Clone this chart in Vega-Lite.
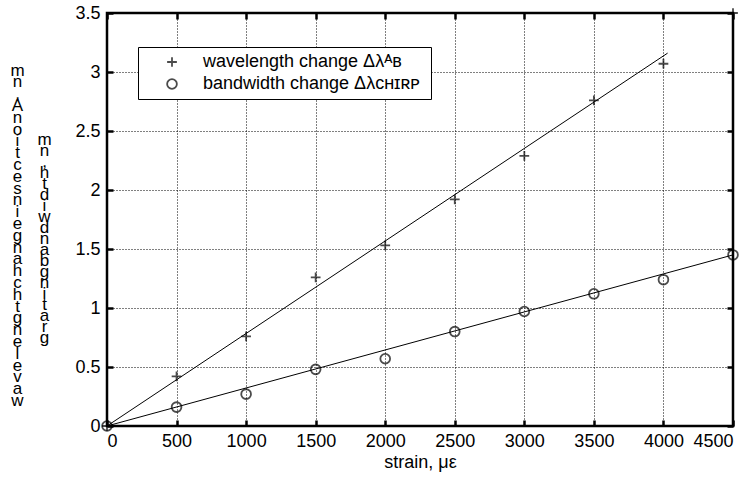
{
  "$schema": "https://vega.github.io/schema/vega-lite/v6.json",
  "width": 626,
  "height": 413,
  "autosize": {"type": "none"},
  "padding": {"left": 107, "top": 13, "right": 15, "bottom": 52},
  "background": "white",
  "config": {
    "view": {"stroke": "black", "strokeWidth": 2.5},
    "font": "Liberation Sans",
    "axis": {
      "labelFont": "Liberation Sans",
      "titleFont": "Liberation Sans",
      "labelFontSize": 18,
      "titleFontSize": 18,
      "labelColor": "black",
      "titleColor": "black",
      "titleFontWeight": "normal",
      "domain": false,
      "tickColor": "black",
      "tickWidth": 2.5,
      "tickSize": 6,
      "gridColor": "black",
      "gridDash": [1, 2],
      "gridWidth": 1,
      "gridOpacity": 1
    }
  },
  "datasets": {
    "fits": [
      {"strain": 0, "value": 0, "series": "wavelength"},
      {"strain": 4030, "value": 3.16, "series": "wavelength"},
      {"strain": 0, "value": 0, "series": "bandwidth"},
      {"strain": 4500, "value": 1.45, "series": "bandwidth"}
    ],
    "measured": [
      {"strain": 0, "value": 0, "series": "wavelength"},
      {"strain": 500, "value": 0.42, "series": "wavelength"},
      {"strain": 1000, "value": 0.76, "series": "wavelength"},
      {"strain": 1500, "value": 1.26, "series": "wavelength"},
      {"strain": 2000, "value": 1.53, "series": "wavelength"},
      {"strain": 2500, "value": 1.92, "series": "wavelength"},
      {"strain": 3000, "value": 2.29, "series": "wavelength"},
      {"strain": 3500, "value": 2.76, "series": "wavelength"},
      {"strain": 4000, "value": 3.07, "series": "wavelength"},
      {"strain": 4500, "value": 3.5, "series": "wavelength"},
      {"strain": 0, "value": 0, "series": "bandwidth"},
      {"strain": 500, "value": 0.16, "series": "bandwidth"},
      {"strain": 1000, "value": 0.27, "series": "bandwidth"},
      {"strain": 1500, "value": 0.48, "series": "bandwidth"},
      {"strain": 2000, "value": 0.57, "series": "bandwidth"},
      {"strain": 2500, "value": 0.8, "series": "bandwidth"},
      {"strain": 3000, "value": 0.97, "series": "bandwidth"},
      {"strain": 3500, "value": 1.12, "series": "bandwidth"},
      {"strain": 4000, "value": 1.24, "series": "bandwidth"},
      {"strain": 4500, "value": 1.45, "series": "bandwidth"}
    ]
  },
  "resolve": {"axis": {"x": "independent", "y": "independent"}},
  "layer": [
    {
      "data": {"name": "fits"},
      "mark": {"type": "line", "color": "black", "strokeWidth": 1},
      "encoding": {
        "x": {
          "field": "strain", "type": "quantitative",
          "scale": {"domain": [0, 4500], "nice": false},
          "axis": {
            "orient": "bottom", "values": [0, 500, 1000, 1500, 2000, 2500, 3000, 3500, 4000, 4500],
            "format": "d", "ticks": false,
            "title": "strain, με", "labelPadding": 6, "titlePadding": 3, "grid": true
          }
        },
        "y": {
          "field": "value", "type": "quantitative",
          "scale": {"domain": [0, 3.5], "nice": false},
          "axis": {
            "orient": "left", "values": [0, 0.5, 1, 1.5, 2, 2.5, 3, 3.5],
            "format": "~g", "ticks": false,
            "labelPadding": 7, "grid": true,
            "title": ["m","n",",","A","n","o","i","t","c","e","s","n","i","e","g","n","a","h","c","h","t","g","n","e","l","e","v","a","w"],
            "titleAngle": 0, "titleAlign": "center", "titleBaseline": "top",
            "titleLineHeight": 11.8, "titleFontSize": 17,
            "titleX": -90, "titleY": 49
          }
        },
        "detail": {"field": "series"}
      }
    },
    {
      "data": {"name": "fits"},
      "mark": {"type": "line", "strokeOpacity": 0},
      "encoding": {
        "x": {
          "field": "strain", "type": "quantitative",
          "axis": {"orient": "bottom", "offset": -6, "ticks": true, "values": [0, 500, 1000, 1500, 2000, 2500, 3000, 3500, 4000, 4500], "labels": false, "title": null, "grid": false}
        },
        "y": {
          "field": "value", "type": "quantitative",
          "axis": {"orient": "left", "offset": -6, "ticks": true, "values": [0, 0.5, 1, 1.5, 2, 2.5, 3, 3.5], "labels": false, "title": null, "grid": false}
        },
        "detail": {"field": "series"}
      }
    },
    {
      "data": {"name": "measured"},
      "mark": {"type": "point", "filled": false, "strokeWidth": 1.8, "size": 95, "clip": false},
      "encoding": {
        "x": {
          "field": "strain", "type": "quantitative",
          "axis": {"orient": "top", "offset": -6, "ticks": true, "values": [0, 500, 1000, 1500, 2000, 2500, 3000, 3500, 4000, 4500], "labels": false, "title": null, "grid": false}
        },
        "y": {
          "field": "value", "type": "quantitative",
          "axis": {
            "orient": "right", "offset": -6, "ticks": true, "values": [0, 0.5, 1, 1.5, 2, 2.5, 3, 3.5], "labels": false, "grid": false,
            "title": ["m","n",",","h","t","d","i","w","d","n","a","b","g","n","i","t","a","r","g"],
            "titleAngle": 0, "titleAlign": "center", "titleBaseline": "top",
            "titleLineHeight": 11, "titleFontSize": 17,
            "titleX": -683, "titleY": 118
          }
        },
        "shape": {
          "field": "series", "type": "nominal",
          "scale": {"domain": ["wavelength", "bandwidth"], "range": ["M-1,0H1M0,-1V1", "circle"]},
          "legend": {
            "orient": "none", "legendX": 31, "legendY": 34, "title": null,
            "strokeColor": "black", "fillColor": "white", "padding": 6,
            "labelFont": "Liberation Sans", "labelFontSize": 18, "labelColor": "black", "labelLimit": 400,
            "symbolStrokeColor": "black", "symbolStrokeWidth": 1.8, "symbolSize": 95,
            "symbolFillColor": "transparent", "rowPadding": 4, "symbolOffset": 19, "labelOffset": 22,
            "labelExpr": "datum.value == 'wavelength' ? 'wavelength change Δλᴬʙ' : 'bandwidth change  Δλᴄʜɪʀᴘ'"
          }
        },
        "color": {"value": "black"}
      }
    }
  ]
}
